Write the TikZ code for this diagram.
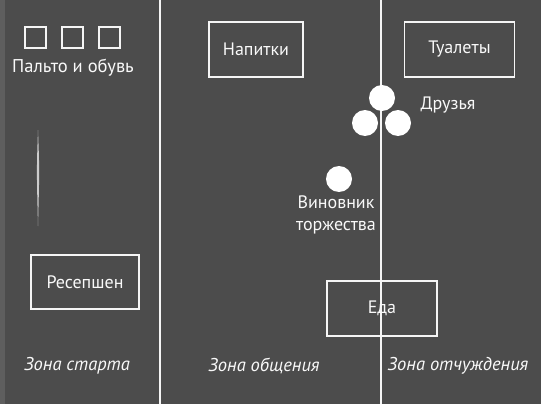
\documentclass[tikz,border=0pt]{standalone}
\usepackage{fontspec}
\setmainfont{PT Sans}
\begin{document}
\begin{tikzpicture}[x=1pt,y=-1pt,
  chalk/.style={draw=white!92!gray, line width=1.8pt},
  zone/.style={font=\fontsize{18.5}{22}\selectfont\itshape, text=white!95!gray, inner sep=0},
  lbl/.style={font=\fontsize{18}{22}\selectfont, text=white!95!gray, inner sep=0, align=center},
  dot/.style={circle, fill=white, minimum size=26pt, inner sep=0},
  box/.style={chalk, inner sep=0}]
\useasboundingbox (0,0) rectangle (541,404);
\fill[black!70!white] (0,0) rectangle (541,404);
\fill[black!63!white] (0,0) rectangle (5,404);
% chalk smear
\fill[white!60!gray] (38,130) .. controls (39.5,170) .. (38,226) .. controls (36.6,170) .. (38,130) -- cycle;
% zone dividers
\coordinate (d1t) at (160,0); \coordinate (d1b) at (160,404);
\coordinate (d2t) at (381,0); \coordinate (d2b) at (381,404);
\draw[chalk] (d1t) -- (d1b);
\draw[chalk] (d2t) -- (d2b);
% coat squares
\node[box, minimum size=21pt] (s1) at (35.5,37.5) {};
\node[box, minimum size=21pt] (s2) at (72.5,37.5) {};
\node[box, minimum size=21pt] (s3) at (109.5,37.5) {};
\node[lbl, font=\fontsize{18.5}{22}\selectfont] (coat) at (73,68) {Пальто и обувь};
% boxes
\node[box, minimum width=94pt, minimum height=55pt, lbl] (drinks) at (256,49.5) {Напитки};
\node[box, minimum width=110pt, minimum height=55pt, lbl] (wc) at (459.5,49.5) {Туалеты};
\node[box, minimum width=108pt, minimum height=54pt, lbl] (rec) at (85,282) {Ресепшен};
\node[box, minimum width=110pt, minimum height=55pt, lbl] (food) at (382,308.5) {Еда};
% friends
\node[dot] (f1) at (382,98) {};
\node[dot] (f2) at (365,123) {};
\node[dot] (f3) at (398,123) {};
\node[lbl] (friends) at (448,105) {Друзья};
% host
\node[dot] (host) at (339,179) {};
\node[lbl, font=\fontsize{18}{22}\selectfont] (hostl) at (336,215) {Виновник\\торжества};
% zones
\node[zone] (z1) at (77,366) {Зона старта};
\node[zone] (z2) at (264,366) {Зона общения};
\node[zone] (z3) at (458,366) {Зона отчуждения};
\end{tikzpicture}
\end{document}
